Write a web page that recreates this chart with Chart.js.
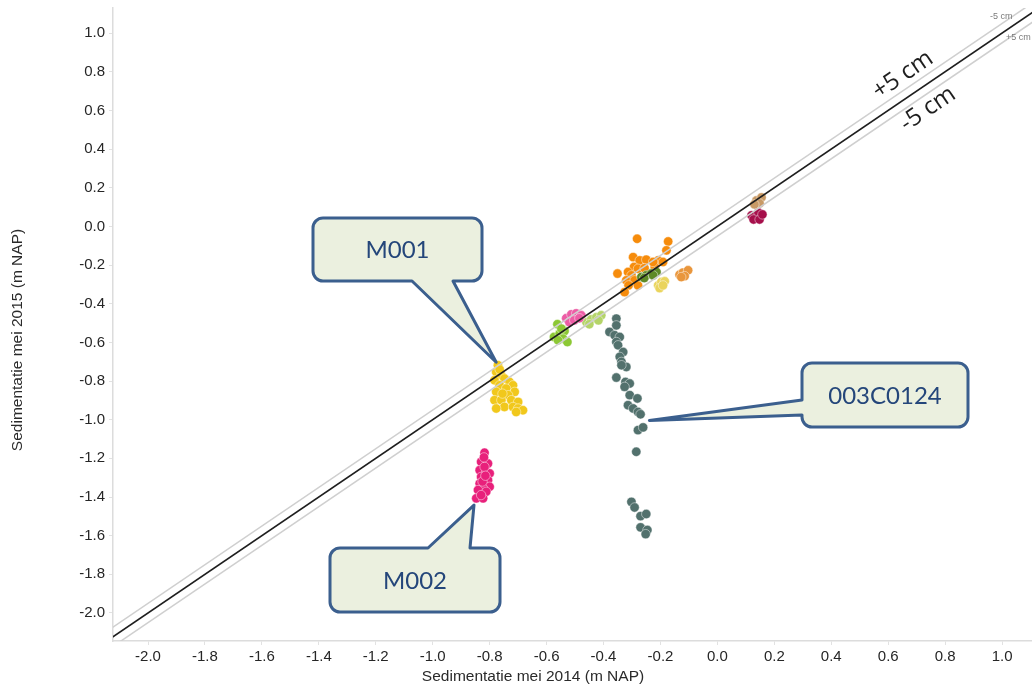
<!DOCTYPE html>
<html>
<head>
<meta charset="utf-8">
<script src="https://cdn.jsdelivr.net/npm/chart.js@4.4.1/dist/chart.umd.min.js"></script>
<style>
  html, body { margin: 0; padding: 0; background: #ffffff; }
  canvas { display: block; }
</style>
</head>
<body>
<canvas id="chart" width="1032" height="689"></canvas>
<script>
// Axis ticks (m NAP)
const tickValues = [-2.0, -1.8, -1.6, -1.4, -1.2, -1.0, -0.8, -0.6, -0.4, -0.2, 0.0, 0.2, 0.4, 0.6, 0.8, 1.0];

// Reference lines: 1:1 line and the +/- 5 cm band (offset in m)
const lineOffsets = [0, 0.05, -0.05];

// Measurement locations: bed level May 2014 (x) vs May 2015 (y)
const m001X = [-0.771, -0.777, -0.759, -0.783, -0.748, -0.730, -0.765, -0.718, -0.742, -0.777, -0.712, -0.735, -0.783, -0.759, -0.724, -0.700, -0.748, -0.718, -0.700, -0.777, -0.683, -0.707, -0.765, -0.755];
const m001Y = [-0.718, -0.753, -0.770, -0.796, -0.787, -0.805, -0.822, -0.822, -0.839, -0.856, -0.856, -0.873, -0.899, -0.899, -0.899, -0.908, -0.934, -0.934, -0.942, -0.942, -0.951, -0.960, -0.740, -0.865];

const m002X = [-0.818, -0.830, -0.806, -0.835, -0.812, -0.800, -0.830, -0.806, -0.835, -0.800, -0.823, -0.841, -0.812, -0.847, -0.823, -0.818, -0.820, -0.825, -0.815, -0.830];
const m002Y = [-1.171, -1.218, -1.227, -1.261, -1.270, -1.278, -1.296, -1.313, -1.330, -1.347, -1.356, -1.364, -1.373, -1.407, -1.407, -1.244, -1.195, -1.320, -1.290, -1.390];

const c0124X = [-0.355, -0.355, -0.379, -0.361, -0.343, -0.355, -0.349, -0.331, -0.343, -0.337, -0.320, -0.337, -0.355, -0.323, -0.308, -0.326, -0.308, -0.281, -0.314, -0.296, -0.279, -0.270, -0.279, -0.261, -0.285, -0.302, -0.291, -0.270, -0.250, -0.270, -0.246, -0.252];
const c0124Y = [-0.477, -0.512, -0.546, -0.563, -0.572, -0.598, -0.615, -0.650, -0.675, -0.701, -0.727, -0.718, -0.782, -0.805, -0.813, -0.830, -0.873, -0.890, -0.925, -0.942, -0.960, -0.972, -1.054, -1.040, -1.166, -1.425, -1.454, -1.499, -1.488, -1.557, -1.571, -1.592];

const limeX = [-0.562, -0.574, -0.554, -0.537, -0.542, -0.527, -0.560, -0.548];
const limeY = [-0.506, -0.572, -0.555, -0.541, -0.581, -0.598, -0.589, -0.529];

const rosePinkX = [-0.531, -0.513, -0.496, -0.478, -0.520, -0.503, -0.485];
const rosePinkY = [-0.475, -0.455, -0.450, -0.460, -0.496, -0.486, -0.475];

const paleGreenX = [-0.460, -0.443, -0.425, -0.408, -0.450, -0.418];
const paleGreenY = [-0.496, -0.481, -0.470, -0.460, -0.506, -0.486];

const orangeX = [-0.282, -0.173, -0.179, -0.296, -0.273, -0.250, -0.208, -0.191, -0.293, -0.279, -0.256, -0.351, -0.314, -0.302, -0.320, -0.291, -0.312, -0.326, -0.279, -0.220, -0.226];
const orangeY = [-0.064, -0.078, -0.124, -0.159, -0.176, -0.172, -0.176, -0.184, -0.210, -0.219, -0.216, -0.244, -0.236, -0.253, -0.279, -0.279, -0.305, -0.340, -0.305, -0.210, -0.184];

const oliveX = [-0.267, -0.250, -0.232, -0.214, -0.257, -0.226];
const oliveY = [-0.262, -0.253, -0.244, -0.236, -0.267, -0.253];

const paleYellowX = [-0.208, -0.197, -0.185, -0.203, -0.191];
const paleYellowY = [-0.305, -0.288, -0.284, -0.319, -0.305];

const lightOrangeX = [-0.133, -0.121, -0.103, -0.115, -0.127];
const lightOrangeY = [-0.250, -0.239, -0.227, -0.257, -0.262];

const tanX = [0.137, 0.155, 0.148, 0.130];
const tanY = [0.134, 0.150, 0.119, 0.114];

const crimsonX = [0.120, 0.144, 0.127, 0.148, 0.158];
const crimsonY = [0.057, 0.072, 0.036, 0.036, 0.062];

// Callout labels and the data point each one points at
const calloutNames = ['M001', 'M002', '003C0124'];
const calloutTipX = [-0.777, -0.855, -0.239];
const calloutTipY = [-0.703, -1.442, -1.004];

// Axis extent
const X_MIN = -2.123, X_MAX = 1.105;
const Y_MIN = -2.145, Y_MAX = 1.13;

const pairs = (xs, ys) => xs.map((x, i) => ({ x, y: ys[i] }));

function pointSet(label, xs, ys, color) {
  return {
    label,
    data: pairs(xs, ys),
    backgroundColor: color,
    borderColor: 'rgba(255,255,255,0.45)',
    borderWidth: 1,
    pointRadius: 4.7,
    pointHoverRadius: 4.7,
    showLine: false
  };
}

function refLine(label, offset, color, width) {
  return {
    label,
    data: [X_MIN - 0.2, X_MAX + 0.2].map(x => ({ x, y: x + offset })),
    borderColor: color,
    borderWidth: width,
    pointRadius: 0,
    showLine: true,
    fill: false
  };
}

const datasets = [
  refLine('1:1', lineOffsets[0], '#1e1e1e', 1.6),
  refLine('-5 cm', lineOffsets[1], '#cfcfcf', 1.5),
  refLine('+5 cm', lineOffsets[2], '#cfcfcf', 1.5),
  pointSet('tan', tanX, tanY, '#c89a66'),
  pointSet('crimson', crimsonX, crimsonY, '#a60f4b'),
  pointSet('olive', oliveX, oliveY, '#5e8a26'),
  pointSet('paleYellow', paleYellowX, paleYellowY, '#ead45c'),
  pointSet('lightOrange', lightOrangeX, lightOrangeY, '#e9963c'),
  pointSet('orange', orangeX, orangeY, '#f68c0c'),
  pointSet('rosePink', rosePinkX, rosePinkY, '#ec5ca5'),
  pointSet('paleGreen', paleGreenX, paleGreenY, '#b4d468'),
  pointSet('lime', limeX, limeY, '#8cc834'),
  pointSet('003C0124', c0124X, c0124Y, '#52716d'),
  pointSet('M001', m001X, m001Y, '#f1c81c'),
  pointSet('M002', m002X, m002Y, '#e8207b')
];

// Callout boxes: box in canvas pixels, tail on one edge ending at the data point
const calloutBoxes = [
  { x: 313, y: 218, w: 169, h: 63, edge: 'bottom', b1: 412, b2: 453 },
  { x: 330, y: 548, w: 170, h: 64, edge: 'top', b1: 428, b2: 470 },
  { x: 802, y: 363, w: 166, h: 64, edge: 'left', b1: 400, b2: 415 }
];

function calloutPath(ctx, box, tip) {
  const { x, y, w, h, edge, b1, b2 } = box;
  const r = 10;
  ctx.beginPath();
  ctx.moveTo(x + r, y);
  if (edge === 'top') { ctx.lineTo(b1, y); ctx.lineTo(tip.x, tip.y); ctx.lineTo(b2, y); }
  ctx.lineTo(x + w - r, y);
  ctx.arcTo(x + w, y, x + w, y + r, r);
  ctx.lineTo(x + w, y + h - r);
  ctx.arcTo(x + w, y + h, x + w - r, y + h, r);
  if (edge === 'bottom') { ctx.lineTo(b2, y + h); ctx.lineTo(tip.x, tip.y); ctx.lineTo(b1, y + h); }
  ctx.lineTo(x + r, y + h);
  ctx.arcTo(x, y + h, x, y + h - r, r);
  if (edge === 'left') { ctx.lineTo(x, b2); ctx.lineTo(tip.x, tip.y); ctx.lineTo(x, b1); }
  ctx.lineTo(x, y + r);
  ctx.arcTo(x, y, x + r, y, r);
  ctx.closePath();
}

const annotations = {
  id: 'annotations',
  afterDatasetsDraw(chart) {
    const { ctx, scales: { x: xs, y: ys } } = chart;
    ctx.save();

    // Band labels along the 1:1 line
    ctx.fillStyle = '#1e1e1e';
    ctx.font = '24px "Open Sans", sans-serif';
    ctx.textAlign = 'center';
    ctx.textBaseline = 'middle';
    const angle = -Math.atan2(ys.getPixelForValue(0) - ys.getPixelForValue(1), xs.getPixelForValue(1) - xs.getPixelForValue(0));
    [['+5 cm', 903, 75], ['-5 cm', 928, 109]].forEach(([t, px, py]) => {
      ctx.save();
      ctx.translate(px, py);
      ctx.rotate(angle);
      ctx.fillText(t, 0, 0);
      ctx.restore();
    });

    // Small line-end labels
    ctx.fillStyle = '#7a7a7a';
    ctx.font = '9px "Liberation Sans", Arial, sans-serif';
    ctx.textAlign = 'left';
    ctx.fillText('-5 cm', 990, 17);
    ctx.fillText('+5 cm', 1006, 38);

    // Callouts
    calloutBoxes.forEach((box, i) => {
      const tip = { x: xs.getPixelForValue(calloutTipX[i]), y: ys.getPixelForValue(calloutTipY[i]) };
      calloutPath(ctx, box, tip);
      ctx.fillStyle = '#ebf0df';
      ctx.fill();
      ctx.lineWidth = 3;
      ctx.lineJoin = 'round';
      ctx.strokeStyle = '#3b5f8e';
      ctx.stroke();
      ctx.fillStyle = '#24467a';
      ctx.font = '24px Lato, "Open Sans", sans-serif';
      ctx.textAlign = 'center';
      ctx.textBaseline = 'middle';
      ctx.fillText(calloutNames[i], box.x + box.w / 2, box.y + box.h / 2 + 1);
    });

    // Axis titles
    ctx.fillStyle = '#2a2a2a';
    ctx.font = '15.5px "Liberation Sans", Arial, sans-serif';
    ctx.textAlign = 'center';
    ctx.textBaseline = 'middle';
    ctx.fillText('Sedimentatie mei 2014 (m NAP)', 533, 677);
    ctx.save();
    ctx.translate(18, 340);
    ctx.rotate(-Math.PI / 2);
    ctx.fillText('Sedimentatie mei 2015 (m NAP)', 0, 0);
    ctx.restore();

    ctx.restore();
  }
};

const fixedTicks = (scale) => { scale.ticks = tickValues.map(v => ({ value: v })); };
const tickFont = { family: '"Liberation Sans", Arial, sans-serif', size: 15 };

new Chart(document.getElementById('chart'), {
  type: 'scatter',
  data: { datasets },
  options: {
    responsive: false,
    animation: false,
    devicePixelRatio: 1,
    layout: { autoPadding: false, padding: { top: 8, right: 0, bottom: 0, left: 0 } },
    plugins: {
      legend: { display: false },
      tooltip: { enabled: false }
    },
    scales: {
      x: {
        type: 'linear',
        min: X_MIN,
        max: X_MAX,
        afterBuildTicks: fixedTicks,
        afterFit: (scale) => { scale.height = 48; scale.paddingLeft = 0; scale.paddingRight = 0; },
        border: { color: '#dcdcdc', width: 1.5 },
        grid: { drawOnChartArea: false, drawTicks: true, tickLength: 4, color: '#e2e2e2' },
        ticks: { color: '#262626', font: tickFont, padding: 3, maxRotation: 0, callback: (v) => Number(v).toFixed(1) }
      },
      y: {
        type: 'linear',
        min: Y_MIN,
        max: Y_MAX,
        afterBuildTicks: fixedTicks,
        afterFit: (scale) => { scale.width = 113; scale.paddingTop = 0; scale.paddingBottom = 0; },
        border: { color: '#dcdcdc', width: 1.5 },
        grid: { drawOnChartArea: false, drawTicks: true, tickLength: 4, color: '#e2e2e2' },
        ticks: { color: '#262626', font: tickFont, padding: 4, callback: (v) => Number(v).toFixed(1) }
      }
    }
  },
  plugins: [annotations]
});
</script>
</body>
</html>
